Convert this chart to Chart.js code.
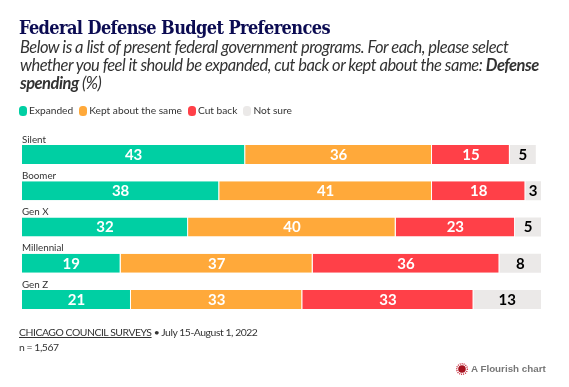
<!DOCTYPE html>
<html>
<head>
<meta charset="utf-8">
<title>Federal Defense Budget Preferences</title>
<script src="https://cdn.jsdelivr.net/npm/chart.js@4"></script>
<style>
  html, body { margin: 0; padding: 0; background: #fff; }
  body { width: 569px; height: 387px; position: relative; overflow: hidden; font-family: Lato, "Open Sans", sans-serif; color: #333; }
  #chartBox { position: absolute; left: 0; top: 0; width: 569px; height: 387px; }
  .abs { position: absolute; white-space: nowrap; }
  #title { left: 19px; top: 17px; font: bold 18px "DejaVu Serif Condensed", "DejaVu Serif", serif; font-stretch: condensed; letter-spacing: -0.6px; color: #0b0b52; }
  #sub { left: 20px; top: 38px; font: italic 16.5px/18px Lato, sans-serif; color: #333; letter-spacing: -0.5px; }
  #legend { left: 19px; top: 103px; font-size: 10.2px; line-height: 14px; color: #333; display: flex; }
  #legend span.key { display: inline-block; width: 8px; height: 10px; border-radius: 3.5px; margin-right: 2px; vertical-align: -2px; }
  #legend div { margin-right: 6px; }
  #source { left: 19px; top: 325px; font-size: 10.4px; line-height: 14.5px; color: #333; letter-spacing: -0.45px; }
  #source u { text-decoration: underline; }
  #credit { left: 471px; top: 363px; font: bold 9.8px "Liberation Sans", sans-serif; color: #777; }
  #burst { position: absolute; left: 456px; top: 363px; width: 12px; height: 12px; }
</style>
</head>
<body>
<div id="chartBox"><canvas id="chart"></canvas></div>
<div class="abs" id="title">Federal Defense Budget Preferences</div>
<div class="abs" id="sub">Below is a list of present federal government programs. For each, please select<br>whether you feel it should be expanded, cut back or kept about the same: <b>Defense<br>spending</b> (%)</div>
<div class="abs" id="legend"></div>
<div class="abs" id="source"><u>CHICAGO COUNCIL SURVEYS</u> • July 15-August 1, 2022<br>n = 1,567</div>
<svg id="burst" viewBox="0 0 12 12">
  <circle cx="6" cy="6" r="3.8" fill="#a5121f"></circle>
  <circle cx="6" cy="6" r="5.3" fill="none" stroke="#c8283a" stroke-width="1.4" stroke-dasharray="1 1"></circle>
</svg>
<div class="abs" id="credit">A Flourish chart</div>

<script>
// survey data
const generations = ['Silent', 'Boomer', 'Gen X', 'Millennial', 'Gen Z'];
const expanded = [43, 38, 32, 19, 21];
const keptSame = [36, 41, 40, 37, 33];
const cutBack = [15, 18, 23, 36, 33];
const notSure = [5, 3, 5, 8, 13];

const seriesNames = ['Expanded', 'Kept about the same', 'Cut back', 'Not sure'];
const seriesColors = ['#00cfa3', '#ffa93a', '#ff4048', '#ebe9e8'];
const seriesValues = [expanded, keptSame, cutBack, notSure];
const labelColors = ['#fff', '#fff', '#fff', '#000'];

// legend goes in html, it sits above the chart text
document.getElementById('legend').innerHTML = seriesNames.map((name, i) =>
  '<div><span class="key" style="background:' + seriesColors[i] + '"></span>' + name + '</div>'
).join('');

// draws group names over the bars and the numbers inside them
const barText = {
  id: 'barText',
  afterDatasetsDraw(chart) {
    const ctx = chart.ctx;
    ctx.save();
    ctx.textBaseline = 'middle';
    ctx.textAlign = 'center';
    ctx.font = 'bold 15px Lato, sans-serif';
    chart.data.datasets.forEach((ds, i) => {
      chart.getDatasetMeta(i).data.forEach((bar, j) => {
        ctx.fillStyle = labelColors[i];
        ctx.fillText(ds.data[j], (bar.base + bar.x) / 2, bar.y + 0.5);
      });
    });
    ctx.textAlign = 'left';
    ctx.font = '9.8px Lato, sans-serif';
    ctx.fillStyle = '#333';
    const y = chart.scales.y;
    generations.forEach((g, j) => {
      ctx.fillText(g, chart.chartArea.left, y.getPixelForValue(j) - 15);
    });
    ctx.restore();
  }
};

new Chart(document.getElementById('chart').getContext('2d'), {
  type: 'bar',
  data: {
    labels: generations,
    datasets: seriesNames.map((name, i) => ({
      label: name,
      data: seriesValues[i],
      backgroundColor: seriesColors[i],
      borderColor: '#fff',
      borderWidth: { right: i < 3 ? 1 : 0 },
      barPercentage: 0.53,
      categoryPercentage: 1
    }))
  },
  options: {
    indexAxis: 'y',
    responsive: true,
    maintainAspectRatio: false,
    animation: false,
    layout: { padding: { left: 22, right: 28, top: 136.4, bottom: 69.4 } },
    plugins: { legend: { display: false }, tooltip: { enabled: false } },
    scales: {
      x: { stacked: true, min: 0, max: 100, display: false },
      y: { stacked: true, display: false }
    }
  },
  plugins: [barText]
});
</script>
</body>
</html>
